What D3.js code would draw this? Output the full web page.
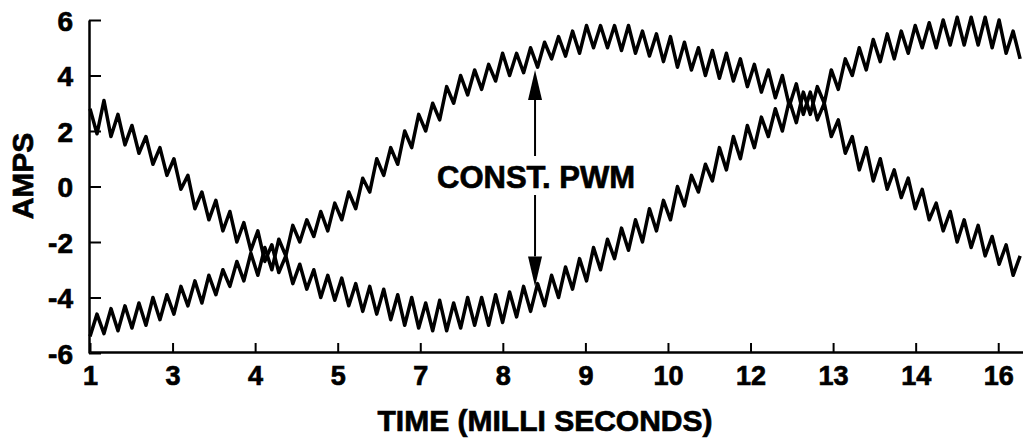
<!DOCTYPE html>
<html>
<head>
<meta charset="utf-8">
<script src="https://cdn.jsdelivr.net/npm/d3@7"></script>
<style>
body { margin: 0; background: #fff; }
text { font-family: "Liberation Sans", Arial, sans-serif; font-weight: bold; fill: #000; stroke: #000; stroke-width: 0.7px; }
</style>
</head>
<body>
<div id="chart"></div>
<script>
// tick labels on the time axis (evenly spaced, as printed)
const timeLabels = ["1", "3", "4", "5", "7", "8", "9", "10", "12", "13", "14", "16"];
const ampTicks = [-6, -4, -2, 0, 2, 4, 6];

// samples are one half ripple apart, in tick-index units
const sampleStep = 0.0847;

// trace that starts high (about +2.5 A) and ends near +5 A
const phaseA = [
  2.8, 1.9, 3.1, 1.8, 2.6, 1.5, 2.2, 1.2, 1.8, 0.8, 1.4, 0.4, 1.0, -0.1, 0.4, -0.8, -0.2, -1.2, -0.5, -1.6,
  -0.9, -2.0, -1.3, -2.3, -1.6, -2.7, -2.1, -3.1, -2.5, -3.5, -2.8, -3.7, -3.0, -4.0, -3.2, -4.1, -3.3, -4.3, -3.5, -4.5,
  -3.6, -4.6, -3.7, -4.8, -3.9, -5.0, -4.0, -5.1, -4.2, -5.2, -4.1, -5.2, -4.2, -5.1, -4.0, -5.0, -4.0, -5.0, -3.9, -4.9,
  -3.8, -4.7, -3.6, -4.5, -3.5, -4.3, -3.2, -4.0, -2.9, -3.7, -2.6, -3.4, -2.2, -3.0, -1.9, -2.6, -1.5, -2.3, -1.2, -2.0,
  -0.8, -1.6, -0.5, -1.2, 0.0, -0.7, 0.4, -0.2, 0.8, 0.2, 1.4, 0.6, 1.8, 1.0, 2.2, 1.4, 2.5, 1.8, 2.8, 2.0,
  3.1, 2.3, 3.4, 2.6, 3.6, 3.0, 4.2, 3.5, 4.6, 4.0, 5.0, 4.2, 5.3, 4.5, 5.5, 4.6, 5.6, 4.8, 5.8, 5.0,
  5.9, 5.0, 6.0, 5.1, 6.1, 5.1, 6.1, 5.1, 6.1, 5.0, 6.0, 4.8, 5.6, 4.6
];

// trace that starts low (about -5 A) and ends near -3 A
const phaseB = [
  -5.4, -4.6, -5.3, -4.4, -5.2, -4.3, -5.1, -4.2, -5.0, -4.0, -4.8, -3.9, -4.6, -3.6, -4.3, -3.4, -4.2, -3.2, -3.9, -3.0,
  -3.6, -2.7, -3.4, -2.4, -3.2, -2.2, -3.0, -1.9, -2.5, -1.4, -2.0, -1.2, -1.8, -0.9, -1.6, -0.6, -1.2, -0.2, -0.8, 0.3,
  -0.2, 1.0, 0.4, 1.4, 0.8, 2.0, 1.4, 2.6, 2.0, 3.0, 2.4, 3.6, 3.0, 4.0, 3.3, 4.2, 3.5, 4.4, 3.8, 4.8,
  4.0, 4.8, 4.1, 5.0, 4.3, 5.2, 4.6, 5.4, 4.7, 5.6, 4.8, 5.8, 5.0, 5.8, 5.0, 5.8, 4.9, 5.8, 4.8, 5.6,
  4.7, 5.5, 4.5, 5.4, 4.3, 5.2, 4.2, 5.0, 4.0, 4.9, 3.9, 4.8, 3.8, 4.6, 3.6, 4.4, 3.4, 4.2, 3.2, 4.0,
  2.9, 3.7, 2.6, 3.4, 2.4, 3.0, 1.8, 2.4, 1.2, 1.8, 0.6, 1.4, 0.2, 1.0, -0.1, 0.6, -0.4, 0.3, -0.8, -0.1,
  -1.2, -0.6, -1.6, -0.9, -2.0, -1.2, -2.2, -1.4, -2.5, -1.8, -2.8, -2.1, -3.2, -2.5
];

// annotation: "CONST. PWM" with arrows to both traces
const noteLabel = "CONST. PWM";
const noteX = 5.39;
const noteTop = 4.2, noteBottom = -3.6;

const W = 1023, H = 439;

const svg = d3.select("#chart")
  .append("svg")
  .attr("width", W)
  .attr("height", H);

const x = d3.scaleLinear().domain([0, 11.3]).range([90, 1023]);
const y = d3.scaleLinear().domain([-6, 6]).range([353, 20]);

// Y axis, ticks pointing inwards
const yAxis = svg.append("g")
  .attr("transform", "translate(89,0)")
  .call(d3.axisLeft(y)
    .tickValues(ampTicks)
    .tickFormat(d => String(d))
    .tickSizeInner(-12).tickSizeOuter(0).tickPadding(16));
yAxis.selectAll("text").style("font-size", "28px").attr("dy", "0.36em");

// X axis, ticks pointing up
const xAxis = svg.append("g")
  .attr("transform", "translate(0,352)")
  .call(d3.axisBottom(x)
    .tickValues(d3.range(timeLabels.length))
    .tickFormat(i => timeLabels[i])
    .tickSizeInner(-9).tickSizeOuter(0).tickPadding(14));
xAxis.selectAll("text").style("font-size", "27px");

svg.selectAll(".domain").attr("stroke", "#000").attr("stroke-width", 2.5);
svg.selectAll(".tick line").attr("stroke", "#000").attr("stroke-width", 2);

// axis titles
svg.append("text")
  .attr("x", 545)
  .attr("y", 431)
  .attr("text-anchor", "middle")
  .style("font-size", "30px")
  .text("TIME (MILLI SECONDS)");

svg.append("text")
  .attr("transform", "translate(33,176) rotate(-90)")
  .attr("text-anchor", "middle")
  .style("font-size", "30px")
  .text("AMPS");

// the two current traces
const line = d3.line()
  .x((d, i) => x(i * sampleStep))
  .y(d => y(d))
  .curve(d3.curveLinear);

[phaseA, phaseB].forEach(series => {
  svg.append("path")
    .datum(series)
    .attr("d", line)
    .attr("fill", "none")
    .attr("stroke", "#000")
    .attr("stroke-width", 3.5)
    .attr("stroke-linejoin", "round");
});

// annotation
const ax = x(noteX);
const textY = 188;
svg.append("text")
  .attr("x", 437)
  .attr("y", textY)
  .style("font-size", "31px")
  .text(noteLabel);

const head = 30, half = 7;
svg.append("line")
  .attr("x1", ax).attr("x2", ax)
  .attr("y1", y(noteTop) + head).attr("y2", textY - 32)
  .attr("stroke", "#000").attr("stroke-width", 2);
svg.append("path")
  .attr("d", `M${ax},${y(noteTop)} L${ax - half},${y(noteTop) + head} L${ax + half},${y(noteTop) + head} Z`)
  .attr("fill", "#000");

svg.append("line")
  .attr("x1", ax).attr("x2", ax)
  .attr("y1", textY + 7).attr("y2", y(noteBottom) - head)
  .attr("stroke", "#000").attr("stroke-width", 2);
svg.append("path")
  .attr("d", `M${ax},${y(noteBottom)} L${ax - half},${y(noteBottom) - head} L${ax + half},${y(noteBottom) - head} Z`)
  .attr("fill", "#000");
</script>
</body>
</html>
